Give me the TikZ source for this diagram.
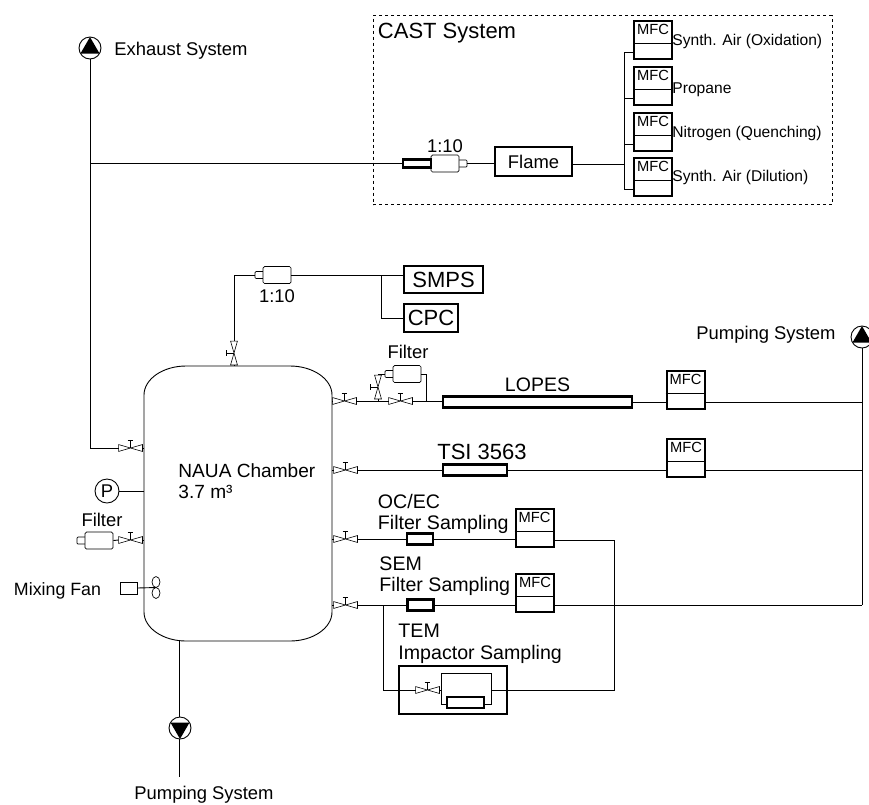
\documentclass[tikz,border=0pt]{standalone}
\usepackage{fontspec}
\setmainfont{Liberation Sans}
\usetikzlibrary{shapes.geometric,calc}

\newcommand{\valve}[3]{%
  \node (#1) [valvebox, rotate=#3] at (#2) {};
  \node (#1h) [valvetop, rotate=#3, anchor=south] at (#1.north) {};
  \draw[line width=0.6pt] (#1.north west) -- (#1.south east) -- (#1.north east) -- (#1.south west) -- cycle;
  \draw[line width=0.6pt] (#1.center) -- (#1h.north);
  \draw[line width=0.6pt] (#1h.north west) -- (#1h.north east);
}
\newcommand{\filterunit}[3]{%
  \node (#1n) [nozzlebox, rotate=#3] at ($(#2)+({#3+180}:17pt)$) {};
  \node (#1) [filterbox, rotate=#3] at (#2) {};
}
\newcommand{\pump}[3]{%
  \node (#1) [pumpbox] at (#2) {};
  \fill ($(#1)+(#3:11pt)$) -- ($(#1)+({#3+120}:11pt)$) -- ($(#1)+({#3-120}:11pt)$) -- cycle;
}
\newcommand{\mfc}[2]{%
  \node (#1) [mfcbox] at (#2) {};
  \node (#1t) [mfctext, anchor=north] at (#1.north) {MFC};
  \draw[line width=0.7pt] ($(#1.west)+(0,3)$) -- ($(#1.east)+(0,3)$);
  \coordinate (#1l) at ($(#1.west)+(0,12)$);
  \coordinate (#1r) at ($(#1.east)+(0,12)$);
}

\begin{document}
\begin{tikzpicture}[x=1pt, y=-1pt, line width=0.9pt,
    valvebox/.style={minimum width=23pt, minimum height=6pt, inner sep=0pt},
    valvetop/.style={minimum width=5pt, minimum height=3pt, inner sep=0pt},
    filterbox/.style={draw, fill=white, rounded corners=1.5pt, minimum width=28pt, minimum height=17pt, inner sep=0pt, line width=0.7pt},
    nozzlebox/.style={draw, rounded corners=1pt, minimum width=10pt, minimum height=7pt, inner sep=0pt, line width=0.7pt},
    pumpbox/.style={draw, circle, minimum size=22pt, inner sep=0pt},
    mfcbox/.style={draw, minimum width=38pt, minimum height=38pt, inner sep=0pt, line width=2pt},
    mfctext/.style={font=\fontsize{14.7}{16}\selectfont, inner sep=3.5pt},
    tubebox/.style={draw, fill=white, inner sep=0pt, line width=2.2pt},
    lbl/.style={font=\fontsize{18.4}{21}\selectfont, inner sep=0pt, align=left},
    lblsample/.style={font=\fontsize{19.6}{21.5}\selectfont, inner sep=0pt, align=left, anchor=west},
    lblsmall/.style={font=\fontsize{15.6}{18}\selectfont, inner sep=0pt, anchor=west},
    lblbig/.style={font=\fontsize{22}{25}\selectfont, inner sep=0pt}]
    \useasboundingbox (0,0) rectangle (869,804);

    % CAST system
    \node (cast) [draw, dashed, minimum width=459pt, minimum height=189pt, inner sep=0pt, line width=0.7pt] at (602.5,110) {};
    \node (castlabel) [lblbig, anchor=west] at (377.5,33) {CAST System};
    \node (flame) [tubebox, minimum width=77pt, minimum height=29pt, lbl] at (533.5,161.5) {Flame};
    \mfc{mfcox}{653,40}
    \mfc{mfcpro}{653,86}
    \mfc{mfcnit}{653,132}
    \mfc{mfcdil}{653,177}
    \node (oxlabel) [lblsmall] at (672,41) {Synth. Air (Oxidation)};
    \node (prolabel) [lblsmall] at (672,90) {Propane};
    \node (nitlabel) [lblsmall] at (672,133) {Nitrogen (Quenching)};
    \node (dillabel) [lblsmall] at (672,177) {Synth. Air (Dilution)};
    \filterunit{castfilter}{445,163.5}{180}
    \node (casttube) [tubebox, minimum width=28pt, minimum height=8pt] at (417,163.5) {};
    \node (castratio) [lbl] at (445,146) {1:10};
    \coordinate (flameout) at ($(flame.east)+(0,3)$);
    \coordinate (casttrunk) at (624,120);

    % Chamber
    \node (chamber) [minimum width=188pt, minimum height=275pt, inner sep=0pt] at (238,503.5) {};
    \draw (144,395) .. controls (144,379) and (163,366) .. (186,366) -- (290,366)
      .. controls (313,366) and (332,379) .. (332,395) -- (332,612)
      .. controls (332,628) and (313,641) .. (290,641) -- (186,641)
      .. controls (163,641) and (144,628) .. (144,612) -- cycle;
    \node (chamberlabel) [font=\fontsize{19.1}{21.5}\selectfont, inner sep=0pt, align=left, anchor=west] at (178,481) {NAUA Chamber\\3.7 m³};

    % Left side of the chamber
    \pump{exhaust}{90,48}{90}
    \node (exhaustlabel) [lbl, anchor=west] at (114,51) {Exhaust System};
    \valve{vexhaust}{130.5,448}{0}
    \node (pressure) [draw, circle, minimum size=24pt, inner sep=0pt, lbl] at (107,491) {P};
    \node (leftfilterlabel) [lbl] at (102,520) {Filter};
    \filterunit{leftfilter}{99,540.5}{0}
    \valve{vleft}{130.5,540}{0}
    \node (fanlabel) [font=\fontsize{17.8}{20}\selectfont, inner sep=0pt, anchor=east] at (101.5,591) {Mixing Fan};
    \node (fanmotor) [draw, minimum width=17pt, minimum height=12pt, inner sep=0pt, line width=0.7pt] at (128.5,588) {};
    \node (fantop) [draw, ellipse, minimum width=8pt, minimum height=11pt, inner sep=0pt, line width=0.7pt] at (156,582) {};
    \node (fanbottom) [draw, ellipse, minimum width=8pt, minimum height=11pt, inner sep=0pt, line width=0.7pt] at (156,593) {};
    \coordinate (fanhub) at (156,587.5);

    % Bottom pump
    \coordinate (bottomout) at (179,641);
    \pump{bottompump}{180,728}{270}
    \coordinate (bottomend) at (179,777);
    \node (bottomlabel) [lbl, anchor=west] at (134,795) {Pumping System};

    % Aerosol sizing
    \valve{vtop}{234,353}{90}
    \filterunit{topfilter}{277,275}{0}
    \node (topratio) [lbl] at (277,296) {1:10};
    \node (smps) [tubebox, minimum width=79pt, minimum height=27pt, lblbig] at (443.5,279.5) {SMPS};
    \node (cpc) [tubebox, minimum width=54pt, minimum height=28pt, lblbig] at (431,318) {CPC};
    \coordinate (smpsin) at (404,275);
    \coordinate (cpcbranch) at (381,275);

    % LOPES line
    \valve{vlopes}{344.5,401}{0}
    \valve{vdilute}{400.5,401}{0}
    \valve{vdilfilter}{378,387}{90}
    \filterunit{dilfilter}{407,374}{0}
    \node (dilfilterlabel) [lbl] at (408,352) {Filter};
    \node (lopes) [tubebox, minimum width=189pt, minimum height=11pt] at (537.5,402) {};
    \node (lopeslabel) [font=\fontsize{19.5}{22}\selectfont, inner sep=0pt, above of=lopes, node distance=17pt] {LOPES};
    \mfc{mfclopes}{685.5,390}
    \coordinate (dilbranch) at (426,401);
    \coordinate (dilfork) at (378,401);

    % TSI line
    \valve{vtsi}{345.5,470}{0}
    \node (tsi) [tubebox, minimum width=64pt, minimum height=11pt] at (475,470) {};
    \node (tsilabel) [lblbig] at (482,452) {TSI 3563};
    \mfc{mfctsi}{686,458}

    % Filter sampling lines
    \valve{voc}{345.5,539}{0}
    \node (oclabel) [lblsample] at (377.5,514) {OC/EC\\Filter Sampling};
    \node (ocbar) [tubebox, minimum width=26pt, minimum height=11pt] at (420,539) {};
    \mfc{mfcoc}{534.5,528}
    \valve{vsem}{345.5,605}{0}
    \node (semlabel) [lblsample] at (379,576) {SEM\\Filter Sampling};
    \node (sembar) [tubebox, minimum width=26pt, minimum height=11pt] at (420.5,605) {};
    \mfc{mfcsem}{535,593}
    \coordinate (rowfork) at (383,605);
    \coordinate (impout) at (614,690);

    % Impactor
    \node (implabel) [lblsample] at (398,644) {TEM\\Impactor Sampling};
    \node (impbox) [draw, minimum width=108pt, minimum height=48pt, inner sep=0pt, line width=2pt] at (453,690) {};
    \node (imploop) [draw, minimum width=50pt, minimum height=31pt, inner sep=0pt, line width=0.7pt] at (466,688.5) {};
    \node (impbar) [tubebox, minimum width=37pt, minimum height=11pt] at (465.5,702.5) {};
    \valve{vimp}{427.5,690}{0}

    % Right pump
    \pump{rightpump}{862,337}{90}
    \node (rightlabel) [lbl, anchor=west] at (696,335) {Pumping System};

    % Edges
    \draw (exhaust.south) |- (vexhaust.west);
    \draw (vexhaust.east) -- (vexhaust.east -| chamber.west);
    \draw (casttube.west) -- (casttube.west -| exhaust.south);
    \draw (castfiltern.west) -- (castfiltern.west -| flame.west);
    \draw (flameout) -- (flameout -| casttrunk);
    \draw (mfcoxl) -| (casttrunk) |- (mfcdill);
    \draw (mfcprol) -- (mfcprol -| casttrunk);
    \draw (mfcnitl) -- (mfcnitl -| casttrunk);
    \draw (pressure.east) -- (pressure.east -| chamber.west);
    \draw (leftfilter.east) -- (vleft.west);
    \draw (vleft.east) -- (vleft.east -| chamber.west);
    \draw (fanmotor.east) -- (fanhub);
    \draw (bottomout) -- (bottomout |- bottompump.north);
    \draw (bottomend |- bottompump.south) -- (bottomend);
    \draw (vtop.west) -- (vtop.west |- chamber.north);
    \draw (topfiltern.west) -| (vtop.east);
    \draw (topfilter.east) -- (smpsin);
    \draw (cpcbranch) |- (cpc.west);
    \draw (vlopes.west) -- (vlopes.west -| chamber.east);
    \draw (vlopes.east) -- (vdilute.west);
    \draw (vdilute.east) -- (vdilute.east -| lopes.west);
    \draw (dilfork) -- (vdilfilter.west);
    \draw (dilfiltern.west) -| (vdilfilter.east);
    \draw (dilfilter.east) -| (dilbranch);
    \draw (lopes.east) -- (lopes.east -| mfclopes.west);
    \draw (mfclopesr) -- (mfclopesr -| rightpump.south);
    \draw (vtsi.west) -- (vtsi.west -| chamber.east);
    \draw (vtsi.east) -- (tsi.west);
    \draw (tsi.east) -- (tsi.east -| mfctsi.west);
    \draw (mfctsir) -- (mfctsir -| rightpump.south);
    \draw (voc.west) -- (voc.west -| chamber.east);
    \draw (voc.east) -- (ocbar.west);
    \draw (ocbar.east) -- (ocbar.east -| mfcoc.west);
    \draw (mfcocr) -| (impout) -- (impout -| imploop.east);
    \draw (vsem.west) -- (vsem.west -| chamber.east);
    \draw (vsem.east) -- (sembar.west);
    \draw (sembar.east) -- (sembar.east -| mfcsem.west);
    \draw (rightpump.south) -- (rightpump.south |- mfcsemr);
    \draw (mfcsemr) -- (mfcsemr -| rightpump.south);
    \draw (rowfork) |- (vimp.west);
    \draw (vimp.east) -- (vimp.east -| imploop.west);
\end{tikzpicture}
\end{document}
